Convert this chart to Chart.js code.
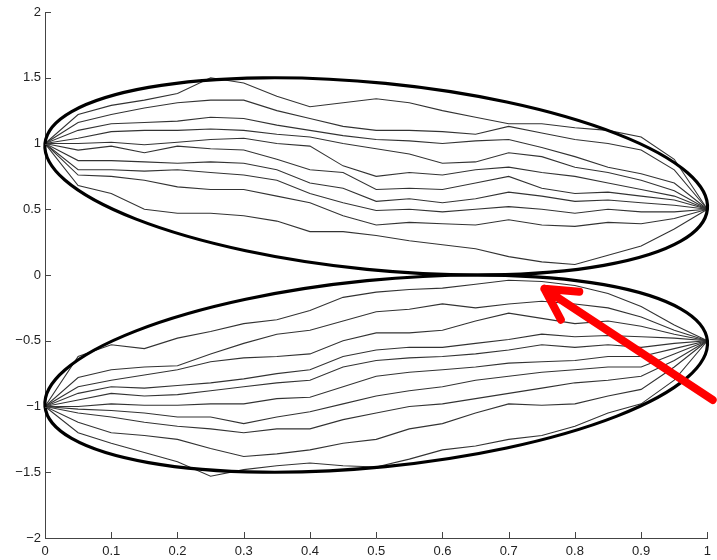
<!DOCTYPE html>
<html>
<head>
<meta charset="utf-8">
<script src="https://cdn.jsdelivr.net/npm/chart.js@4"></script>
<style>
  html, body { margin: 0; padding: 0; background: #fff; }
  canvas { display: block; }
</style>
</head>
<body>
<canvas id="bridgeChart" width="717" height="560"></canvas>
<script>
// sample positions along x (time)
const xValues = [0, 0.05, 0.1, 0.15, 0.2, 0.25, 0.3, 0.35, 0.4, 0.45, 0.5, 0.55, 0.6, 0.65, 0.7, 0.75, 0.8, 0.85, 0.9, 0.95, 1];

// paths from (0, 1) to (1, 0.5)
const upper1 = [1.00, 1.22, 1.29, 1.33, 1.38, 1.50, 1.46, 1.36, 1.28, 1.31, 1.34, 1.31, 1.25, 1.20, 1.15, 1.15, 1.12, 1.10, 1.05, 0.88, 0.50];
const upper2 = [1.00, 1.16, 1.22, 1.27, 1.31, 1.33, 1.33, 1.25, 1.19, 1.13, 1.10, 1.10, 1.09, 1.07, 1.13, 1.08, 1.03, 1.00, 0.95, 0.80, 0.50];
const upper3 = [1.00, 1.10, 1.15, 1.16, 1.17, 1.20, 1.19, 1.14, 1.10, 1.06, 1.03, 1.02, 1.00, 1.02, 1.03, 0.97, 0.90, 0.82, 0.77, 0.70, 0.50];
const upper4 = [1.00, 1.04, 1.09, 1.10, 1.10, 1.11, 1.10, 1.07, 1.05, 1.00, 0.96, 0.92, 0.85, 0.86, 0.93, 0.90, 0.82, 0.78, 0.72, 0.64, 0.50];
const upper5 = [1.00, 1.00, 1.01, 0.99, 1.01, 1.03, 1.04, 1.00, 0.98, 0.83, 0.75, 0.78, 0.76, 0.80, 0.82, 0.78, 0.75, 0.70, 0.65, 0.60, 0.50];
const upper6 = [1.00, 0.95, 0.98, 0.93, 0.98, 0.96, 0.95, 0.88, 0.80, 0.78, 0.65, 0.66, 0.65, 0.70, 0.75, 0.66, 0.62, 0.63, 0.60, 0.57, 0.50];
const upper7 = [1.00, 0.87, 0.87, 0.86, 0.85, 0.86, 0.85, 0.80, 0.70, 0.66, 0.56, 0.58, 0.55, 0.58, 0.63, 0.60, 0.56, 0.57, 0.55, 0.53, 0.50];
const upper8 = [1.00, 0.80, 0.80, 0.79, 0.80, 0.78, 0.76, 0.72, 0.62, 0.55, 0.49, 0.50, 0.48, 0.50, 0.52, 0.50, 0.47, 0.50, 0.48, 0.48, 0.50];
const upper9 = [1.00, 0.76, 0.75, 0.72, 0.67, 0.65, 0.65, 0.60, 0.55, 0.45, 0.38, 0.40, 0.39, 0.38, 0.42, 0.38, 0.37, 0.40, 0.39, 0.43, 0.50];
const upper10 = [1.00, 0.68, 0.62, 0.50, 0.47, 0.47, 0.45, 0.41, 0.33, 0.33, 0.30, 0.26, 0.23, 0.20, 0.14, 0.10, 0.08, 0.15, 0.22, 0.35, 0.50];

// paths from (0, -1) to (1, -0.5)
const lower1 = [-1.00, -0.62, -0.53, -0.56, -0.48, -0.43, -0.37, -0.34, -0.27, -0.17, -0.13, -0.11, -0.10, -0.07, -0.04, -0.05, -0.08, -0.14, -0.24, -0.38, -0.50];
const lower2 = [-1.00, -0.78, -0.72, -0.70, -0.69, -0.60, -0.52, -0.45, -0.42, -0.35, -0.28, -0.26, -0.22, -0.25, -0.22, -0.20, -0.22, -0.25, -0.32, -0.42, -0.50];
const lower3 = [-1.00, -0.85, -0.80, -0.76, -0.72, -0.66, -0.63, -0.62, -0.60, -0.50, -0.44, -0.44, -0.42, -0.35, -0.29, -0.33, -0.37, -0.35, -0.39, -0.45, -0.50];
const lower4 = [-1.00, -0.90, -0.85, -0.86, -0.84, -0.82, -0.79, -0.75, -0.72, -0.62, -0.57, -0.55, -0.55, -0.52, -0.49, -0.45, -0.47, -0.46, -0.47, -0.48, -0.50];
const lower5 = [-1.00, -0.95, -0.90, -0.92, -0.91, -0.88, -0.85, -0.82, -0.80, -0.70, -0.65, -0.63, -0.62, -0.60, -0.57, -0.53, -0.55, -0.53, -0.55, -0.52, -0.50];
const lower6 = [-1.00, -1.00, -0.98, -0.99, -0.99, -0.98, -0.98, -0.94, -0.93, -0.85, -0.77, -0.74, -0.72, -0.70, -0.67, -0.66, -0.65, -0.62, -0.62, -0.56, -0.50];
const lower7 = [-1.00, -1.02, -1.03, -1.05, -1.08, -1.08, -1.13, -1.08, -1.04, -0.98, -0.92, -0.88, -0.85, -0.80, -0.77, -0.74, -0.72, -0.70, -0.70, -0.60, -0.50];
const lower8 = [-1.00, -1.05, -1.08, -1.12, -1.15, -1.17, -1.20, -1.17, -1.17, -1.10, -1.05, -1.00, -0.98, -0.94, -0.90, -0.86, -0.82, -0.80, -0.77, -0.65, -0.50];
const lower9 = [-1.00, -1.12, -1.20, -1.22, -1.25, -1.32, -1.38, -1.36, -1.33, -1.28, -1.25, -1.17, -1.13, -1.05, -0.98, -0.99, -0.98, -0.92, -0.87, -0.70, -0.50];
const lower10 = [-1.00, -1.20, -1.28, -1.35, -1.42, -1.53, -1.48, -1.45, -1.43, -1.45, -1.46, -1.40, -1.33, -1.30, -1.25, -1.22, -1.15, -1.05, -0.98, -0.80, -0.50];

// envelopes: end points and the extreme y they reach
const upperEllipse = { x0: 0, y0: 1, x1: 1, y1: 0.5, yExtreme: 1.5 };
const lowerEllipse = { x0: 0, y0: -1, x1: 1, y1: -0.5, yExtreme: -1.5 };

// red arrow (data units), tip near where paths touch the envelope
const arrowTail = { x: 1.008, y: -0.95 };
const arrowTip = { x: 0.754, y: -0.105 };

const xTicks = [0, 0.1, 0.2, 0.3, 0.4, 0.5, 0.6, 0.7, 0.8, 0.9, 1];
const yTicks = [-2, -1.5, -1, -0.5, 0, 0.5, 1, 1.5, 2];

const paths = [upper1, upper2, upper3, upper4, upper5, upper6, upper7, upper8, upper9, upper10,
               lower1, lower2, lower3, lower4, lower5, lower6, lower7, lower8, lower9, lower10];

const datasets = paths.map(ys => ({
    data: ys.map((y, i) => ({ x: xValues[i], y: y })),
    showLine: true,
    borderColor: '#333',
    borderWidth: 1.1,
    pointRadius: 0,
    tension: 0
}));

const fmt = v => v < 0 ? '\u2212' + String(Math.abs(v)) : String(v);

const overlayPlugin = {
    id: 'overlay',
    afterDatasetsDraw(chart) {
        const ctx = chart.ctx;
        const xs = chart.scales.x, ys = chart.scales.y;
        ctx.save();
        ctx.strokeStyle = '#000';
        ctx.lineWidth = 3.2;
        [upperEllipse, lowerEllipse].forEach(e => {
            const ax = xs.getPixelForValue(e.x0), ay = ys.getPixelForValue(e.y0);
            const bx = xs.getPixelForValue(e.x1), by = ys.getPixelForValue(e.y1);
            const cx = (ax + bx) / 2, cy = (ay + by) / 2;
            const a = Math.hypot(bx - ax, by - ay) / 2;
            const th = Math.atan2(by - ay, bx - ax);
            const h = Math.abs(ys.getPixelForValue(e.yExtreme) - cy);
            const s = a * Math.sin(th);
            const b = Math.sqrt(Math.max(h * h - s * s, 1)) / Math.cos(th);
            ctx.beginPath();
            ctx.ellipse(cx, cy, a, b, th, 0, Math.PI * 2);
            ctx.stroke();
        });
        ctx.restore();
    },
    afterDraw(chart) {
        const ctx = chart.ctx;
        const xs = chart.scales.x, ys = chart.scales.y;
        const area = chart.chartArea;
        ctx.save();
        // inward ticks
        ctx.strokeStyle = '#444';
        ctx.lineWidth = 1;
        ctx.beginPath();
        xTicks.forEach(v => {
            const px = Math.round(xs.getPixelForValue(v)) + 0.5;
            ctx.moveTo(px, area.bottom);
            ctx.lineTo(px, area.bottom - 6);
        });
        yTicks.forEach(v => {
            const py = Math.round(ys.getPixelForValue(v)) + 0.5;
            ctx.moveTo(area.left, py);
            ctx.lineTo(area.left + 6, py);
        });
        ctx.stroke();

        // arrow
        const tx = xs.getPixelForValue(arrowTip.x), ty = ys.getPixelForValue(arrowTip.y);
        const sx = xs.getPixelForValue(arrowTail.x), sy = ys.getPixelForValue(arrowTail.y);
        const ang = Math.atan2(sy - ty, sx - tx);
        const barb = 35, spread = 0.5;
        ctx.strokeStyle = '#ff0000';
        ctx.lineWidth = 8;
        ctx.lineCap = 'round';
        ctx.lineJoin = 'round';
        ctx.beginPath();
        ctx.moveTo(sx, sy);
        ctx.lineTo(tx, ty);
        ctx.moveTo(tx + barb * Math.cos(ang - spread), ty + barb * Math.sin(ang - spread));
        ctx.lineTo(tx, ty);
        ctx.lineTo(tx + barb * Math.cos(ang + spread), ty + barb * Math.sin(ang + spread));
        ctx.stroke();
        ctx.restore();
    }
};

const ctx = document.getElementById('bridgeChart').getContext('2d');
const bridgeChart = new Chart(ctx, {
    type: 'scatter',
    data: { datasets: datasets },
    options: {
        responsive: false,
        animation: false,
        layout: { padding: { top: 12, right: 5, left: 0, bottom: 0 } },
        plugins: {
            legend: { display: false },
            tooltip: { enabled: false }
        },
        scales: {
            x: {
                type: 'linear',
                min: 0,
                max: 1,
                afterFit: s => { s.height = 22; },
                afterBuildTicks: s => { s.ticks = xTicks.map(v => ({ value: v })); },
                grid: { display: false, drawTicks: false },
                border: { display: true, color: '#444', width: 1 },
                ticks: {
                    padding: 6,
                    color: '#222',
                    font: { family: 'Liberation Sans, Arial, sans-serif', size: 13 },
                    maxRotation: 0,
                    callback: v => fmt(v)
                }
            },
            y: {
                type: 'linear',
                min: -2,
                max: 2,
                afterFit: s => { s.width = 45; },
                afterBuildTicks: s => { s.ticks = yTicks.map(v => ({ value: v })); },
                grid: { display: false, drawTicks: false },
                border: { display: true, color: '#444', width: 1 },
                ticks: {
                    padding: 4,
                    color: '#222',
                    font: { family: 'Liberation Sans, Arial, sans-serif', size: 13 },
                    callback: v => fmt(v)
                }
            }
        }
    },
    plugins: [overlayPlugin]
});
</script>
</body>
</html>
